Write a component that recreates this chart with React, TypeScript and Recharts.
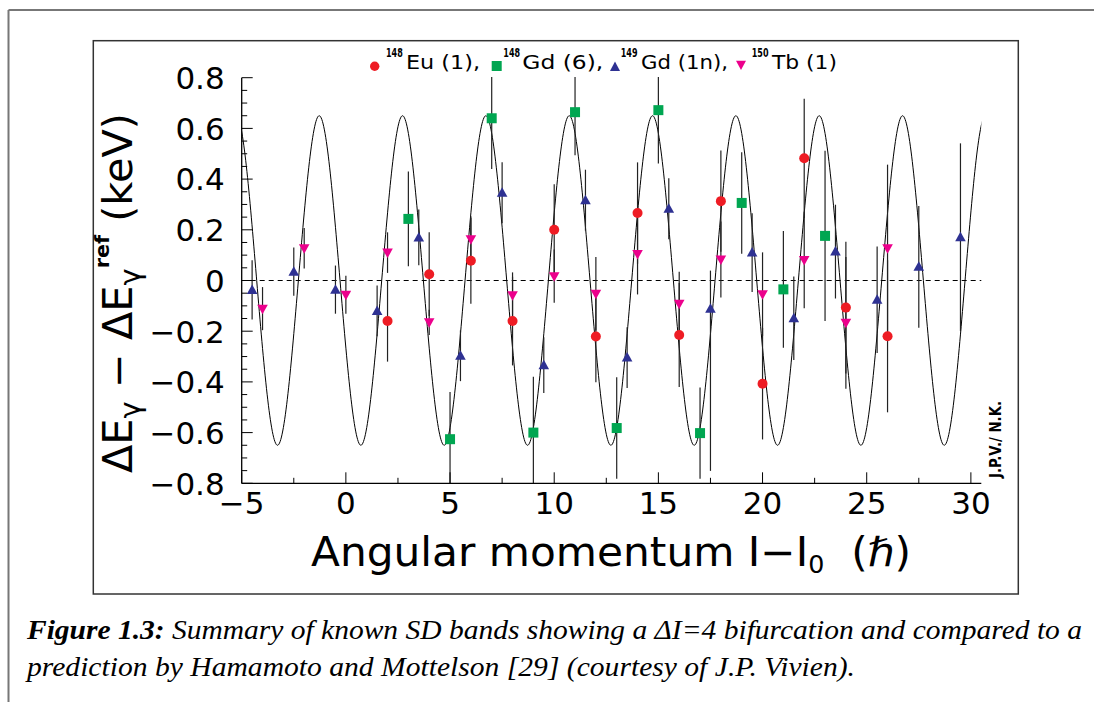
import { ComposedChart, Line, Scatter, XAxis, YAxis, ErrorBar, ReferenceLine } from 'recharts';

// spin I - I0 of each transition and its staggering residual dE (keV) with error
const EU148_I = [2, 4, 6, 8, 10, 12, 14, 16, 18, 20, 22, 24, 26];
const EU148_DE = [-0.16, 0.025, 0.078, -0.16, 0.2, -0.221, 0.266, -0.215, 0.313, -0.407, 0.482, -0.107, -0.22];
const EU148_ERR = [0.16, 0.165, 0.17, 0.175, 0.18, 0.18, 0.2, 0.205, 0.2, 0.22, 0.235, 0.26, 0.3];

const GD148_I = [3, 5, 7, 9, 11, 13, 15, 17, 19, 21, 23];
const GD148_DE = [0.243, -0.626, 0.64, -0.6, 0.664, -0.582, 0.672, -0.602, 0.306, -0.035, 0.176];
const GD148_ERR = [0.187, 0.186, 0.2, 0.22, 0.17, 0.2, 0.21, 0.18, 0.2, 0.23, 0.336];

const GD149_I = [-4.5, -2.5, -0.5, 1.5, 3.5, 5.5, 7.5, 9.5, 11.5, 13.5, 15.5, 17.5, 19.5, 21.5, 23.5, 25.5, 27.5, 29.5];
const GD149_DE = [-0.037, 0.035, -0.036, -0.12, 0.17, -0.297, 0.346, -0.334, 0.317, -0.304, 0.283, -0.111, 0.11, -0.149, 0.114, -0.076, 0.054, 0.171];
const GD149_ERR_DOWN = [0.117, 0.095, 0.095, 0.1, 0.11, 0.1, 0.12, 0.11, 0.12, 0.12, 0.12, 0.64, 0.155, 0.165, 0.185, 0.21, 0.24, 0.37];
const GD149_ERR_UP = [0.117, 0.095, 0.095, 0.1, 0.11, 0.1, 0.12, 0.11, 0.12, 0.12, 0.12, 0.15, 0.155, 0.165, 0.185, 0.21, 0.24, 0.37];

const TB150_I = [-4, -2, 0, 2, 4, 6, 8, 10, 12, 14, 16, 18, 20, 22, 24, 26];
const TB150_DE = [-0.111, 0.127, -0.056, 0.11, -0.165, 0.163, -0.058, 0.017, -0.052, 0.105, -0.092, 0.083, -0.054, 0.081, -0.167, 0.127];
const TB150_ERR = [0.085, 0.08, 0.075, 0.08, 0.05, 0.09, 0.09, 0.105, 0.145, 0.16, 0.127, 0.15, 0.165, 0.19, 0.26, 0.33];

// Hamamoto-Mottelson prediction: extrema and nodes of the dI=4 oscillation
// (runs a little past both ends of the axis so the spline ends stay off-screen)
const MODEL_I = [-7.28, -6.28, -5.28, -4.28, -3.28, -2.28, -1.28, -0.28, 0.72, 1.72, 2.72, 3.72, 4.72, 5.72, 6.72, 7.72, 8.72, 9.72, 10.72, 11.72, 12.72, 13.72, 14.72, 15.72, 16.72, 17.72, 18.72, 19.72, 20.72, 21.72, 22.72, 23.72, 24.72, 25.72, 26.72, 27.72, 28.72, 29.72, 30.72, 31.72, 32.72];
const MODEL_DE = [-0.65, 0, 0.65, 0, -0.65, 0, 0.65, 0, -0.65, 0, 0.65, 0, -0.65, 0, 0.65, 0, -0.65, 0, 0.65, 0, -0.65, 0, 0.65, 0, -0.65, 0, 0.65, 0, -0.65, 0, 0.65, 0, -0.65, 0, 0.65, 0, -0.65, 0, 0.65, 0, -0.65];

const X_TICKS = [-5, -2.5, 0, 2.5, 5, 7.5, 10, 12.5, 15, 17.5, 20, 22.5, 25, 27.5, 30];
const Y_TICKS = [-0.8, -0.75, -0.7, -0.65, -0.6, -0.55, -0.5, -0.45, -0.4, -0.35, -0.3, -0.25, -0.2, -0.15, -0.1, -0.05, 0,
  0.05, 0.1, 0.15, 0.2, 0.25, 0.3, 0.35, 0.4, 0.45, 0.5, 0.55, 0.6, 0.65, 0.7, 0.75, 0.8];

const RED = '#ee1c24';
const GREEN = '#00a651';
const BLUE = '#2e3192';
const MAGENTA = '#ec008c';

const eu148 = EU148_I.map((x, i) => ({ x, y: EU148_DE[i], err: EU148_ERR[i] }));
const gd148 = GD148_I.map((x, i) => ({ x, y: GD148_DE[i], err: GD148_ERR[i] }));
const gd149 = GD149_I.map((x, i) => ({ x, y: GD149_DE[i], err: [GD149_ERR_DOWN[i], GD149_ERR_UP[i]] }));
const tb150 = TB150_I.map((x, i) => ({ x, y: TB150_DE[i], err: TB150_ERR[i] }));
const model = MODEL_I.map((x, i) => ({ x, y: MODEL_DE[i] }));

const TICK_FONT = { fontFamily: 'DejaVu Sans', fontSize: 31, fill: '#000' };

const fmtY = (v: number) => (Math.abs(v) < 1e-9 ? '0' : (v < 0 ? '\u2212' : '') + Math.abs(v).toFixed(1));
const fmtX = (v: number) => (v < 0 ? '\u2212' : '') + Math.abs(v);

const YTick = (props: any) => {
  const { x, y, payload } = props;
  const v = payload.value as number;
  const major = Math.round(v * 100) % 20 === 0;
  return (
    <g>
      <line x1={x} x2={x + (major ? 11 : 5.5)} y1={y} y2={y} stroke="#000" strokeWidth={1} />
      {major && (
        <text x={x - 17} y={y + 11.3} textAnchor="end" {...TICK_FONT}>
          {fmtY(v)}
        </text>
      )}
    </g>
  );
};

const XTick = (props: any) => {
  const { x, y, payload } = props;
  const v = payload.value as number;
  const major = Math.round(v * 10) % 50 === 0;
  return (
    <g>
      <line x1={x} x2={x} y1={y} y2={y - (major ? 11 : 5.5)} stroke="#000" strokeWidth={1} />
      {major && (
        <text x={x} y={y + 30.7} textAnchor="middle" {...TICK_FONT}>
          {fmtX(v)}
        </text>
      )}
    </g>
  );
};

const Circle = (p: any) => <circle cx={p.cx} cy={p.cy} r={5} fill={RED} />;
const Square = (p: any) => <rect x={p.cx - 5} y={p.cy - 5} width={10} height={10} fill={GREEN} />;
const TriUp = (p: any) => (
  <polygon points={`${p.cx},${p.cy - 5.5} ${p.cx + 5.3},${p.cy + 4} ${p.cx - 5.3},${p.cy + 4}`} fill={BLUE} />
);
const TriDown = (p: any) => (
  <polygon points={`${p.cx},${p.cy + 5.5} ${p.cx + 5.3},${p.cy - 4} ${p.cx - 5.3},${p.cy - 4}`} fill={MAGENTA} />
);

const LEG_FONT = { fontFamily: 'DejaVu Sans', fontSize: 20, fill: '#000' };

// mass number written as a narrow bold superscript
const Sup = ({ x, children }: { x: number; children: string }) => (
  <text transform={`translate(${x},57) scale(0.62,1)`} fontFamily="DejaVu Sans" fontSize={13} fontWeight={700} fill="#000">
    {children}
  </text>
);

const Overlay = () => (
  <svg width={1094} height={702} style={{ position: 'absolute', left: 0, top: 0, pointerEvents: 'none' }}>
    {/* page border */}
    <line x1={8.5} y1={10} x2={1094} y2={10} stroke="#777" strokeWidth={2} />
    <line x1={8.5} y1={10} x2={8.5} y2={702} stroke="#777" strokeWidth={2} />
    {/* keep error bars inside the frame */}
    <rect x={242.5} y={41.6} width={738} height={35.4} fill="#fff" />
    <rect x={242.5} y={484} width={738} height={6} fill="#fff" />
    {/* canvas frame */}
    <rect x={93.3} y={40.7} width={925} height={553.3} fill="none" stroke="#333" strokeWidth={1.5} />

    {/* legend */}
    <circle cx={374.7} cy={66.2} r={4.7} fill={RED} />
    <Sup x={386}>148</Sup>
    <text x={406} y={68.5} textLength={74} lengthAdjust="spacingAndGlyphs" {...LEG_FONT} style={{ whiteSpace: 'pre' }}>Eu (1),</text>
    <rect x={491.7} y={61} width={10} height={10} fill={GREEN} />
    <Sup x={503.3}>148</Sup>
    <text x={522.3} y={68.5} textLength={81} lengthAdjust="spacingAndGlyphs" {...LEG_FONT} style={{ whiteSpace: 'pre' }}>Gd (6),</text>
    <polygon points="615,61.5 620,71 610,71" fill={BLUE} />
    <Sup x={620.7}>149</Sup>
    <text x={641} y={68.5} textLength={87} lengthAdjust="spacingAndGlyphs" {...LEG_FONT} style={{ whiteSpace: 'pre' }}>Gd (1n),</text>
    <polygon points="741,70 746,60.7 736,60.7" fill={MAGENTA} />
    <Sup x={751.7}>150</Sup>
    <text x={772} y={68.5} textLength={65} lengthAdjust="spacingAndGlyphs" {...LEG_FONT} style={{ whiteSpace: 'pre' }}>Tb (1)</text>

    {/* y title */}
    <text
      transform="translate(132,473) rotate(-90)"
      fontFamily="DejaVu Sans"
      fontSize={40}
      textLength={360}
      lengthAdjust="spacingAndGlyphs"
      style={{ whiteSpace: 'pre' }}
    >
      {'\u0394E'}
      <tspan dy={8} fontSize={28}>{'\u03b3'}</tspan>
      <tspan dy={-8}>{' \u2212 \u0394E'}</tspan>
      <tspan dy={8} fontSize={28}>{'\u03b3'}</tspan>
      <tspan dy={-31} fontSize={20} fontWeight={700}>ref</tspan>
      <tspan dy={23}>{' (keV)'}</tspan>
    </text>

    {/* x title */}
    <text x={311} y={566} fontFamily="DejaVu Sans" fontSize={40} textLength={600} lengthAdjust="spacingAndGlyphs" style={{ whiteSpace: 'pre' }}>
      {'Angular momentum I\u2212I'}
      <tspan dy={7} fontSize={24}>0</tspan>
      <tspan dy={-7}>{'  (\u210f)'}</tspan>
    </text>

    <text transform="translate(1001,478) rotate(-90)" fontFamily="DejaVu Sans" fontSize={15} fontWeight={700} textLength={77} lengthAdjust="spacingAndGlyphs" style={{ whiteSpace: 'pre' }}>
      J.P.V./ N.K.
    </text>

    {/* caption */}
    <text x={27} y={639} fontFamily="Liberation Serif" fontSize={27} fontStyle="italic" textLength={1055} lengthAdjust="spacingAndGlyphs" style={{ whiteSpace: 'pre' }}>
      <tspan fontWeight={700}>Figure 1.3:</tspan>
      {' Summary of known SD bands showing a \u0394I=4 bifurcation and compared to a'}
    </text>
    <text x={27} y={676} fontFamily="Liberation Serif" fontSize={27} fontStyle="italic" textLength={828} lengthAdjust="spacingAndGlyphs" style={{ whiteSpace: 'pre' }}>
      prediction by Hamamoto and Mottelson [29] (courtesy of J.P. Vivien).
    </text>
  </svg>
);

const ERR_STROKE = '#222';

export default function App() {
  return (
    <div style={{ position: 'absolute', left: 0, top: 0, width: 1094, height: 702, background: '#fff' }}>
      <ComposedChart width={1094} height={702} margin={{ top: 77.7, right: 112.7, bottom: 178.7, left: 141.7 }}>
        <XAxis
          xAxisId={0}
          type="number"
          dataKey="x"
          domain={[-5, 30.5]}
          allowDataOverflow
          ticks={X_TICKS}
          interval={0}
          height={40}
          tickSize={0}
          tickMargin={0}
          tick={<XTick />}
          tickLine={false}
          axisLine={{ stroke: '#000', strokeWidth: 1.3 }}
        />
        <XAxis xAxisId="top" orientation="top" type="number" domain={[-5, 30.5]} allowDataOverflow height={0} tick={false} tickLine={false} axisLine={{ stroke: '#000', strokeWidth: 1.3 }} />
        <YAxis
          yAxisId={0}
          type="number"
          dataKey="y"
          domain={[-0.8, 0.8]}
          allowDataOverflow
          ticks={Y_TICKS}
          interval={0}
          width={100}
          tickSize={0}
          tickMargin={0}
          tick={<YTick />}
          tickLine={false}
          axisLine={{ stroke: '#000', strokeWidth: 1.3 }}
        />
        <YAxis yAxisId="right" orientation="right" type="number" domain={[-0.8, 0.8]} allowDataOverflow width={0} tick={false} tickLine={false} axisLine={{ stroke: '#000', strokeWidth: 1.3 }} />
        <ReferenceLine y={0} stroke="#000" strokeWidth={1} strokeDasharray="5 4" />
        <Line data={model} dataKey="y" type="natural" dot={false} stroke="#000" strokeWidth={1} isAnimationActive={false} />
        <Scatter data={eu148} shape={<Circle />} isAnimationActive={false}>
          <ErrorBar dataKey="err" direction="y" width={0} stroke={ERR_STROKE} strokeWidth={1.2} />
        </Scatter>
        <Scatter data={gd148} shape={<Square />} isAnimationActive={false}>
          <ErrorBar dataKey="err" direction="y" width={0} stroke={ERR_STROKE} strokeWidth={1.2} />
        </Scatter>
        <Scatter data={gd149} shape={<TriUp />} isAnimationActive={false}>
          <ErrorBar dataKey="err" direction="y" width={0} stroke={ERR_STROKE} strokeWidth={1.2} />
        </Scatter>
        <Scatter data={tb150} shape={<TriDown />} isAnimationActive={false}>
          <ErrorBar dataKey="err" direction="y" width={0} stroke={ERR_STROKE} strokeWidth={1.2} />
        </Scatter>
      </ComposedChart>
      <Overlay />
    </div>
  );
}
